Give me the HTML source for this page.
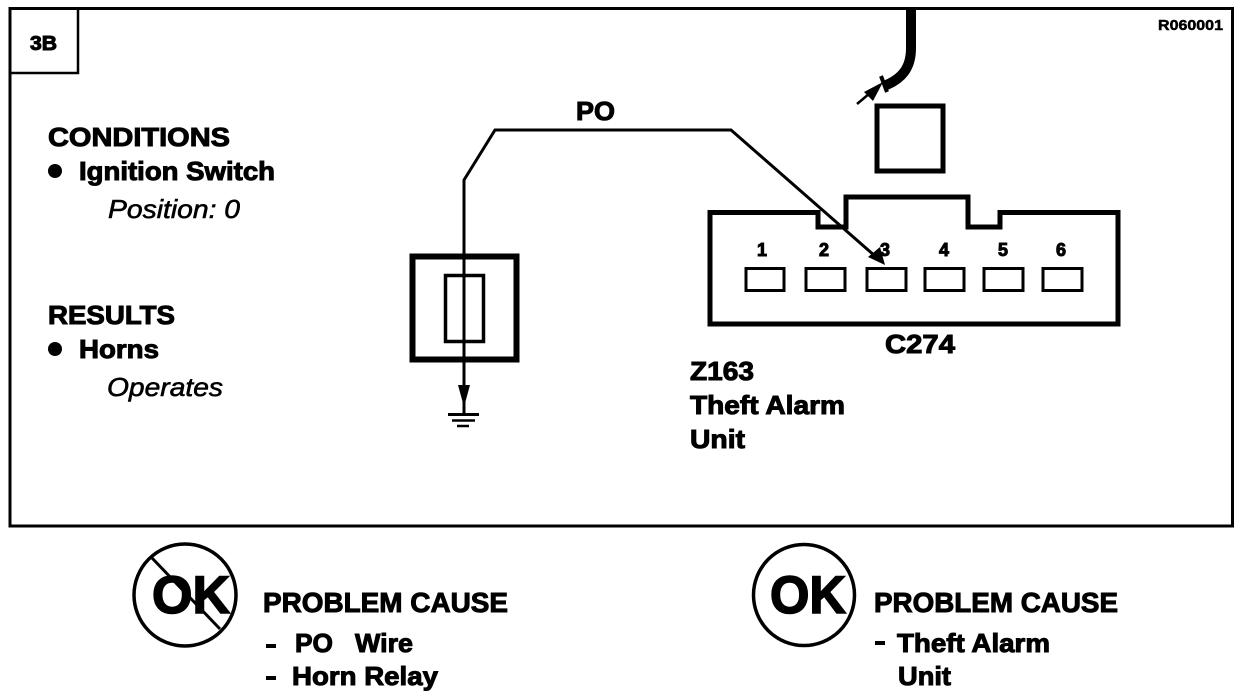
<!DOCTYPE html>
<html>
<head>
<meta charset="utf-8">
<style>
html,body{margin:0;padding:0;background:#fff;width:1248px;height:700px;overflow:hidden}
svg{display:block}
text{font-family:"Liberation Sans",sans-serif;font-weight:bold;fill:#000;stroke:#000;stroke-width:1}
.i{font-style:italic;font-weight:normal;stroke-width:.6}
.ok{stroke-width:1.600}
</style>
</head>
<body>
<svg width="1248" height="700" viewBox="0 0 1248 700" xmlns="http://www.w3.org/2000/svg">
<rect width="1248" height="700" fill="#fff"/>
<g fill="none" stroke="#000">
  <rect x="10" y="8.500" width="1222.500" height="517.500" stroke-width="3"/>
  <path d="M11 73H78V9" stroke-width="2.500"/>
  <path d="M911 8V48C911 68 902 79 884 86" stroke-width="10"/>
  <path d="M881 76L887 92" stroke-width="4"/>
  <path d="M857 104L876 88" stroke-width="2.500"/>
  <rect x="877" y="106" width="66" height="65" stroke-width="5"/>
  <path d="M710 212.500H818V227H846V197H968V227H1000V212.500H1118V324H710Z" stroke-width="5"/>
  <g stroke-width="3">
    <rect x="746" y="268.500" width="38" height="22"/>
    <rect x="806" y="268.500" width="39" height="22"/>
    <rect x="867" y="268.500" width="39" height="22"/>
    <rect x="925" y="268.500" width="39" height="22"/>
    <rect x="984" y="268.500" width="39" height="22"/>
    <rect x="1043" y="268.500" width="39" height="22"/>
  </g>
  <rect x="412.500" y="256.500" width="104" height="103" stroke-width="6"/>
  <rect x="445.500" y="275.500" width="38" height="66" stroke-width="3.500"/>
  <path d="M464 400V180L495 130H731L875 256" stroke-width="3"/>
  <path d="M448 414.500H479" stroke-width="3"/>
  <path d="M452 420.500H475" stroke-width="2.500"/>
  <path d="M457 426H469" stroke-width="2.500"/>
  <path d="M464 400V414" stroke-width="3"/>
  <circle cx="185" cy="595" r="51" stroke-width="3.500"/>
  <path d="M152 558L220 629" stroke-width="3"/>
  <circle cx="804" cy="595" r="50.500" stroke-width="3.500"/>
</g>
<g fill="#000">
  <path d="M885 265L868 257L880 247Z"/>
  <path d="M458 385H470L464 407Z"/>
  <path d="M883 82L864 92L873 101Z"/>
  <circle cx="55" cy="171" r="7"/>
  <circle cx="55" cy="349" r="7"/>
  <rect x="266" y="644" width="10" height="4"/>
  <rect x="266" y="676" width="10" height="4"/>
  <rect x="875" y="641" width="10" height="4"/>
</g>

<text x="30" y="50" font-size="20" textLength="27" lengthAdjust="spacingAndGlyphs">3B</text>
<text x="1158" y="30" font-size="15" textLength="65" lengthAdjust="spacingAndGlyphs" style="stroke-width:.5">R060001</text>

<text x="48" y="146" font-size="26" textLength="182" lengthAdjust="spacingAndGlyphs">CONDITIONS</text>
<text x="79" y="180" font-size="26" textLength="196" lengthAdjust="spacingAndGlyphs">Ignition Switch</text>
<text class="i" x="108" y="218" font-size="26" textLength="132" lengthAdjust="spacingAndGlyphs">Position: 0</text>
<text x="48" y="324" font-size="26" textLength="127" lengthAdjust="spacingAndGlyphs">RESULTS</text>
<text x="79" y="358" font-size="26" textLength="80" lengthAdjust="spacingAndGlyphs">Horns</text>
<text class="i" x="107" y="396" font-size="26" textLength="116" lengthAdjust="spacingAndGlyphs">Operates</text>

<text x="576" y="120" font-size="26" textLength="39" lengthAdjust="spacingAndGlyphs">PO</text>

<g font-size="18" text-anchor="middle" style="stroke-width:.5">
  <text x="762" y="256">1</text>
  <text x="824" y="256">2</text>
  <text x="885" y="256">3</text>
  <text x="944" y="256">4</text>
  <text x="1003" y="256">5</text>
  <text x="1061" y="256">6</text>
</g>

<text x="885" y="353" font-size="26" textLength="70" lengthAdjust="spacingAndGlyphs">C274</text>
<text x="690" y="380" font-size="26" textLength="64" lengthAdjust="spacingAndGlyphs">Z163</text>
<text x="690" y="414" font-size="26" textLength="155" lengthAdjust="spacingAndGlyphs">Theft Alarm</text>
<text x="690" y="448" font-size="26" textLength="55" lengthAdjust="spacingAndGlyphs">Unit</text>

<text class="ok" x="152" y="613" font-size="53" textLength="78" lengthAdjust="spacingAndGlyphs">OK</text>
<text x="263" y="612" font-size="28" textLength="245" lengthAdjust="spacingAndGlyphs">PROBLEM CAUSE</text>
<text x="295" y="652" font-size="26" textLength="38" lengthAdjust="spacingAndGlyphs">PO</text>
<text x="355" y="652" font-size="26" textLength="58" lengthAdjust="spacingAndGlyphs">Wire</text>
<text x="292" y="685" font-size="26" textLength="146" lengthAdjust="spacingAndGlyphs">Horn Relay</text>

<text class="ok" x="770" y="613" font-size="53" textLength="76" lengthAdjust="spacingAndGlyphs">OK</text>
<text x="874" y="612" font-size="28" textLength="244" lengthAdjust="spacingAndGlyphs">PROBLEM CAUSE</text>
<text x="897" y="652" font-size="26" textLength="153" lengthAdjust="spacingAndGlyphs">Theft Alarm</text>
<text x="898" y="685" font-size="26" textLength="53" lengthAdjust="spacingAndGlyphs">Unit</text>
</svg>
</body>
</html>
